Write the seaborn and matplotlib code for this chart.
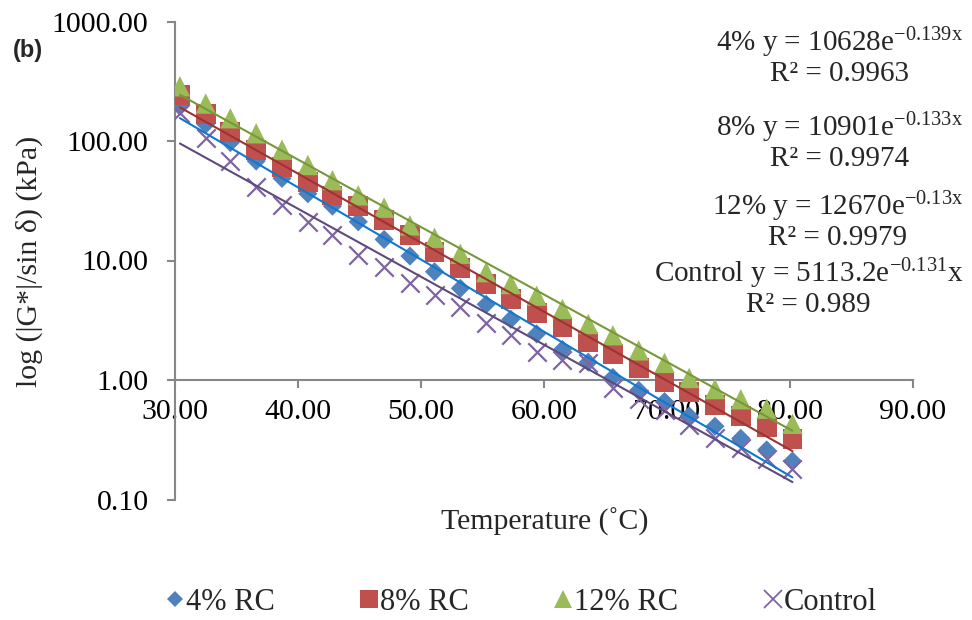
import numpy as np
import pandas as pd
import matplotlib
matplotlib.use("Agg")
import matplotlib.pyplot as plt
from matplotlib.lines import Line2D
from matplotlib.ticker import FixedLocator, FormatStrFormatter, NullLocator
import seaborn as sns

# Test temperatures (°C)
temperature = [30.4, 32.5, 34.5, 36.6, 38.7, 40.8, 42.8, 44.9, 47.0, 49.1,
               51.1, 53.2, 55.3, 57.3, 59.4, 61.5, 63.6, 65.6, 67.7, 69.8,
               71.8, 73.9, 76.0, 78.1, 80.2]

# |G*|/sin δ (kPa) for each binder
rc4 = [195, 138, 97, 68, 48.7, 36.2, 28.5, 21.1, 15.0, 10.9,
       8.06, 5.85, 4.3, 3.22, 2.43, 1.80, 1.41, 1.05, 0.82, 0.66,
       0.50, 0.41, 0.325, 0.26, 0.21]
rc8 = [241, 167, 119, 83.6, 60.5, 45, 35, 28.5, 22.0, 16.3,
       11.8, 8.7, 6.4, 4.76, 3.61, 2.76, 2.09, 1.65, 1.27, 0.97,
       0.79, 0.62, 0.50, 0.40, 0.32]
rc12 = [287, 206, 155, 116, 84.6, 63, 47, 35.1, 27.7, 19.7,
        15.5, 11.4, 8.0, 6.36, 5.08, 3.93, 2.94, 2.37, 1.77, 1.39,
        1.04, 0.84, 0.69, 0.575, 0.43]
control = [170, 105, 68.4, 41.5, 29.1, 21.1, 16.5, 11.1, 8.77, 6.52,
           5.14, 4.06, 3.0, 2.38, 1.73, 1.47, 1.38, 0.85, 0.70, 0.56,
           0.42, 0.325, 0.27, 0.22, 0.18]

series_names = ["4% RC", "8% RC", "12% RC", "Control"]
fit_prefix = ["4%", "8%", "12%", "Control"]
fit_a = [10628, 10901, 12670, 5113.2]
fit_b = [-0.139, -0.133, -0.13, -0.131]
r_squared = ["0.9963", "0.9974", "0.9979", "0.989"]

y_ticks = [0.1, 1, 10, 100, 1000]
x_ticks = [30, 40, 50, 60, 70, 80, 90]

marker_colors = ["#4F81BD", "#C0504D", "#9BBB59", "#8064A2"]
line_colors = ["#0F78CF", "#9A3533", "#77983A", "#5E4A7C"]
markers = ["D", "s", "^", "x"]
sizes = [95, 205, 215, 175]

sns.set_theme(style="white")
plt.rcParams["font.family"] = ["Liberation Serif", "DejaVu Serif"]
plt.rcParams["mathtext.fontset"] = "custom"
plt.rcParams["mathtext.rm"] = "Liberation Serif"
plt.rcParams["mathtext.it"] = "Liberation Serif"
plt.rcParams["mathtext.default"] = "rm"

df = pd.DataFrame({"Temperature": temperature, "4% RC": rc4, "8% RC": rc8,
                   "12% RC": rc12, "Control": control})

fig = plt.figure(figsize=(9.72, 6.2), dpi=100)
ax = fig.add_axes([175 / 972, 1 - 499.5 / 620, (913 - 175) / 972, (499.5 - 21.5) / 620])

ax.set_yscale("log")

for name, col, mk, s in zip(series_names, marker_colors, markers, sizes):
    if mk == "x":
        sns.scatterplot(data=df, x="Temperature", y=name, marker=mk, s=s,
                        color=col, linewidth=1.6, ax=ax, zorder=3)
    else:
        sns.scatterplot(data=df, x="Temperature", y=name, marker=mk, s=s,
                        color=col, edgecolor="none", linewidth=0, ax=ax, zorder=3)

# exponential trend lines from the fitted equations
xs = np.linspace(temperature[0], temperature[-1], 50)
for a, b, col in zip(fit_a, fit_b, line_colors):
    sns.lineplot(x=xs, y=a * np.exp(b * xs), color=col, linewidth=1.5, ax=ax, zorder=4)

ax.set_xlim(30, 90)
ax.set_ylim(0.1, 1000)
ax.yaxis.set_major_locator(FixedLocator(y_ticks))
ax.yaxis.set_minor_locator(NullLocator())
ax.yaxis.set_major_formatter(FormatStrFormatter("%.2f"))
ax.xaxis.set_major_locator(FixedLocator(x_ticks))
ax.xaxis.set_major_formatter(FormatStrFormatter("%.2f"))

for side in ["top", "right"]:
    ax.spines[side].set_visible(False)
ax.spines["bottom"].set_position(("data", 1))
for side in ["left", "bottom"]:
    ax.spines[side].set_color("#878787")
    ax.spines[side].set_linewidth(1.5)

ax.tick_params(axis="y", which="major", direction="out", length=6, width=1.5,
               color="#878787", labelsize=21.5, pad=13, left=True)
ax.tick_params(axis="x", which="major", direction="out", length=6, width=1.5,
               color="#878787", labelsize=21.5, pad=8, bottom=True)
for lab in ax.get_xticklabels() + ax.get_yticklabels():
    lab.set_color("black")

ax.set_xlabel("")
ax.set_ylabel("")
fig.text(545 / 972, 1 - 522 / 620, "Temperature (˚C)", fontsize=21.5,
         ha="center", va="center")
fig.text(29 / 972, 1 - 261 / 620, "log (|G*|/sin δ) (kPa)", fontsize=21.5,
         ha="center", va="center", rotation=90)
fig.text(28 / 972, 1 - 51 / 620, "(b)", fontsize=17, fontweight="bold",
         family=["Liberation Sans", "DejaVu Sans"], ha="center", va="center")

# fitted equations
eq_y = [56, 141, 220, 287]
for pre, a, b, r2, yc in zip(fit_prefix, fit_a, fit_b, r_squared, eq_y):
    a_txt = f"{a:g}"
    if pre == "Control":
        eq = f"{pre} y = {a_txt}e$^{{{b:g}}}$x"
    else:
        eq = f"{pre} y = {a_txt}e$^{{{b:g}x}}$"
    fig.text(963 / 972, 1 - yc / 620, eq + "\nR² = " + r2, fontsize=21,
             ha="right", va="center", multialignment="center", linespacing=1.05)

handles = [Line2D([], [], linestyle="none", marker=mk, color=col,
                  markersize=ms, markeredgewidth=(1.3 if mk == "x" else 0))
           for mk, col, ms in zip(markers, marker_colors, [8.5, 13, 13, 13])]
fig.legend(handles, series_names, loc="center", bbox_to_anchor=(0.537, 0.029),
           ncol=4, frameon=False, fontsize=22, handlelength=0.5,
           handletextpad=0.1, columnspacing=2.85, borderaxespad=0)

fig.savefig("out.png", dpi=100)
